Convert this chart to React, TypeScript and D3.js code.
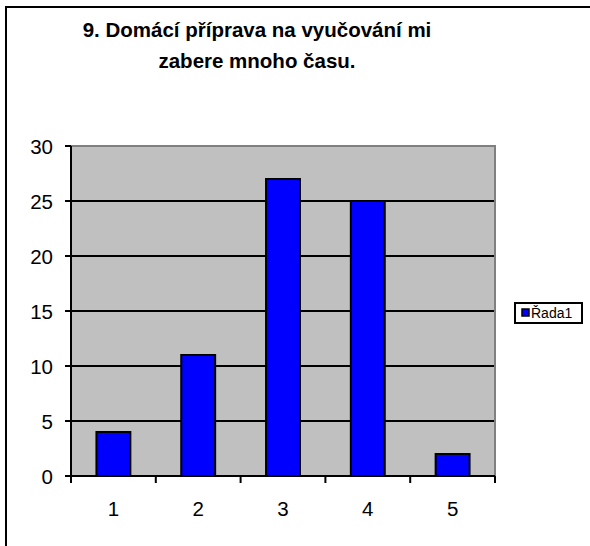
import React from "react";
import * as d3 from "d3";

const categories = ["1", "2", "3", "4", "5"];
const values = [4, 11, 27, 25, 2];
const yTicks = [0, 5, 10, 15, 20, 25, 30];
const titleLines = ["9. Domácí příprava na vyučování mi", "zabere mnoho času."];
const seriesName = "Řada1";

export default function App() {
  const W = 590, H = 546;
  const left = 71, right = 495, top = 146, bottom = 476;
  const x = d3.scaleBand<string>().domain(categories).range([left, right]).paddingInner(0.6).paddingOuter(0.3);
  const xc = d3.scaleBand<string>().domain(categories).range([left, right]);
  const y = d3.scaleLinear().domain([0, 30]).range([bottom, top]);
  const font = "Arial, 'Liberation Sans', sans-serif";
  return (
    <svg width={W} height={H} style={{ position: "absolute", left: 0, top: 0 }} fontFamily={font}>
      <rect x={0} y={0} width={W} height={H} fill="#fff" />
      <rect x={6} y={7} width={600} height={600} fill="none" stroke="#000" strokeWidth={2} />
      {titleLines.map((t, i) => (
        <text key={i} x={257} y={37 + i * 31} textAnchor="middle" fontWeight="bold" fontSize={20.5}>{t}</text>
      ))}
      <rect x={left} y={top} width={right - left} height={bottom - top} fill="#C0C0C0" />
      <path d={`M${left},${top}H${right}V${bottom}`} fill="none" stroke="#808080" strokeWidth={2} />
      {yTicks.filter(v => v > 0 && v < 30).map(v => (
        <line key={v} x1={left} x2={right - 1} y1={y(v)} y2={y(v)} stroke="#000" strokeWidth={2} />
      ))}
      {categories.map((c, i) => (
        <rect key={c} x={x(c)!} y={y(values[i])} width={x.bandwidth()} height={bottom - y(values[i])}
          fill="#0000FF" stroke="#000" strokeWidth={2} />
      ))}
      <line x1={left} x2={left} y1={top} y2={bottom} stroke="#000" strokeWidth={2} />
      <line x1={left - 1} x2={right} y1={bottom} y2={bottom} stroke="#000" strokeWidth={2} />
      {yTicks.map(v => (
        <g key={v}>
          <line x1={left - 6} x2={left} y1={y(v)} y2={y(v)} stroke="#000" strokeWidth={2} />
          <text x={53} y={y(v) + 7.5} textAnchor="end" fontSize={20.5}>{v}</text>
        </g>
      ))}
      {categories.map((c, i) => (
        <line key={"t" + c} x1={xc(c)! + xc.bandwidth()} x2={xc(c)! + xc.bandwidth()} y1={bottom} y2={bottom + 7} stroke="#000" strokeWidth={2} />
      ))}
      <line x1={left} x2={left} y1={bottom} y2={bottom + 7} stroke="#000" strokeWidth={2} />
      {categories.map(c => (
        <text key={"l" + c} x={xc(c)! + xc.bandwidth() / 2} y={516} textAnchor="middle" fontSize={20.5}>{c}</text>
      ))}
      <rect x={515} y={303} width={67} height={20} fill="#fff" stroke="#000" strokeWidth={2} />
      <rect x={522} y={309} width={7} height={7} fill="#0000FF" stroke="#000" strokeWidth={1.5} />
      <text x={531} y={318} fontSize={14}>{seriesName}</text>
    </svg>
  );
}
